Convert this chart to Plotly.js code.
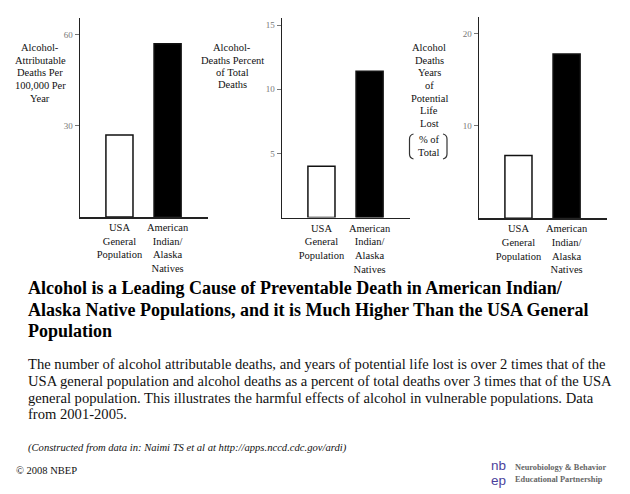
<!DOCTYPE html>
<html>
<head>
<meta charset="utf-8">
<script src="https://cdn.plot.ly/plotly-3.0.1.min.js"></script>
<style>
  html, body { margin: 0; padding: 0; background: #fff; }
  #chart { width: 630px; height: 494px; }
</style>
</head>
<body>
<div id="chart"></div>
<script>
// ---------- DATA ----------
const categories = ["USA<br>General<br>Population", "American<br>Indian/<br>Alaska<br>Natives"];
const deathsPer100k = [27.0, 57.1];
const percentOfTotalDeaths = [4.0, 11.4];
const yplPercentOfTotal = [6.8, 17.8];
const ticks1 = [30, 60];
const ticks2 = [5, 10, 15];
const ticks3 = [10, 20];
const yTitle1 = ["Alcohol-", "Attributable", "Deaths Per", "100,000 Per", "Year"];
const yTitle2 = ["Alcohol-", "Deaths Percent", "of Total", "Deaths"];
const yTitle3 = ["Alcohol", "Deaths", "Years", "of", "Potential", "Life", "Lost", "% of", "Total"];
const titleLines = [
  "Alcohol is a Leading Cause of Preventable Death in American Indian/",
  "Alaska Native Populations, and it is Much Higher Than the USA General",
  "Population"
];
const bodyLines = [
  "The number of alcohol attributable deaths, and years of potential life lost is over 2 times that of the",
  "USA general population and alcohol deaths as a percent of total deaths over 3 times that of the USA",
  "general population. This illustrates the harmful effects of alcohol in vulnerable populations. Data",
  "from 2001-2005."
];
const creditText = "(Constructed from data in: Naimi TS et al at http://apps.nccd.cdc.gov/ardi)";
const copyrightText = "© 2008 NBEP";
const logoLetters = ["nb", "ep"];
const logoLines = ["Neurobiology &amp; Behavior", "Educational Partnership"];

// ---------- LAYOUT HELPERS ----------
const W = 630, H = 494;
const px = x => x / W;
const py = y => 1 - y / H;
const SERIF = "'Liberation Serif', 'Times New Roman', Times, serif";
const SANS = "'Liberation Sans', Arial, sans-serif";
const xpos = [0, 1];

const barStyle = {
  type: "bar",
  width: 0.5625,
  marker: { color: ["#ffffff", "#000000"], line: { color: "#111", width: 1.5 } },
  hoverinfo: "none",
  showlegend: false
};

const traces = [
  Object.assign({}, barStyle, { x: xpos, y: deathsPer100k, xaxis: "x", yaxis: "y" }),
  Object.assign({}, barStyle, { x: xpos, y: percentOfTotalDeaths, xaxis: "x2", yaxis: "y2" }),
  Object.assign({}, barStyle, { x: xpos, y: yplPercentOfTotal, xaxis: "x3", yaxis: "y3" })
];

function xAxis(x0, x1, anchor) {
  return {
    domain: [px(x0), px(x1)], anchor: anchor,
    range: [-0.82, 1.84], tickvals: xpos, ticktext: categories,
    showline: true, linecolor: "#222", linewidth: 1.5,
    ticks: "", showgrid: false, zeroline: false, fixedrange: true,
    tickfont: { family: SERIF, size: 10.5, color: "#111" }
  };
}
function yAxis(yTop, yZero, top, tv, anchor) {
  return {
    domain: [py(yZero), py(yTop)], anchor: anchor,
    range: [0, top], tickvals: tv, ticktext: tv.map(String),
    showline: true, linecolor: "#222", linewidth: 1.5,
    ticks: "outside", ticklen: 4, tickcolor: "#777", tickwidth: 1,
    showgrid: false, zeroline: false, fixedrange: true,
    tickfont: { family: SERIF, size: 9, color: "#777" }
  };
}

const annotations = [];
function addLine(text, x, y, size, opts) {
  annotations.push(Object.assign({
    text: text, x: px(x), y: py(y), xref: "paper", yref: "paper",
    xanchor: "left", yanchor: "middle", showarrow: false,
    font: { family: SERIF, size: size, color: "#111" }
  }, opts || {}));
}
function addCenteredBlock(lines, cx, y0, step, size, extraGaps) {
  let y = y0;
  lines.forEach((t, i) => {
    if (extraGaps && extraGaps[i]) y += extraGaps[i];
    addLine(t, cx, y, size, { xanchor: "center" });
    y += step;
  });
}

addCenteredBlock(yTitle1, 40.5, 47.7, 12.6, 10.5);
addCenteredBlock(yTitle2, 232.3, 47.7, 12.4, 10.5);
addCenteredBlock(yTitle3, 429, 47.7, 12.6, 10.5, { 7: 4 });

titleLines.forEach((t, i) => addLine("<b>" + t + "</b>", 26, 288.3 + i * 21.2, 18, { font: { family: SERIF, size: 18, color: "#000" } }));
bodyLines.forEach((t, i) => addLine(t, 26, 364.3 + i * 16.6, 14.6));
addLine("<i>" + creditText + "</i>", 26, 447.5, 10.6);
addLine(copyrightText, 14, 470.5, 10.5);

logoLetters.forEach((t, i) => addLine(t, 489, 465 + i * 15, 13.5, { font: { family: SANS, size: 13.5, color: "#4b3f9c" } }));
logoLines.forEach((t, i) => addLine("<b>" + t + "</b>", 513, 467 + i * 12, 8.3, { font: { family: SERIF, size: 8.3, color: "#666" } }));

function bracketPath(xEdge, xTip, yTop, yBot) {
  const P = (x, y) => px(x).toFixed(5) + "," + py(y).toFixed(5);
  return "M" + P(xTip, yTop) + " Q" + P(xEdge, yTop + 1) + " " + P(xEdge, yTop + 5) +
         " L" + P(xEdge, yBot - 5) + " Q" + P(xEdge, yBot - 1) + " " + P(xTip, yBot);
}
const shapes = [
  { type: "path", xref: "paper", yref: "paper", path: bracketPath(409.5, 413.5, 134, 159), line: { color: "#333", width: 1.2 } },
  { type: "path", xref: "paper", yref: "paper", path: bracketPath(447, 443, 134, 159), line: { color: "#333", width: 1.2 } }
];

const layout = {
  width: W, height: H,
  margin: { l: 0, r: 0, t: 0, b: 0, pad: 0 },
  paper_bgcolor: "#ffffff", plot_bgcolor: "rgba(0,0,0,0)",
  showlegend: false,
  font: { family: SERIF, color: "#111" },
  xaxis: xAxis(80, 208, "y"),
  yaxis: yAxis(18, 217, 65.6, ticks1, "x"),
  xaxis2: xAxis(282, 410, "y2"),
  yaxis2: yAxis(18, 217.5, 15.55, ticks2, "x2"),
  xaxis3: xAxis(479, 607, "y3"),
  yaxis3: yAxis(17, 218.3, 21.8, ticks3, "x3"),
  annotations: annotations,
  shapes: shapes
};

Plotly.newPlot("chart", traces, layout, { displayModeBar: false, staticPlot: true });
</script>
</body>
</html>
